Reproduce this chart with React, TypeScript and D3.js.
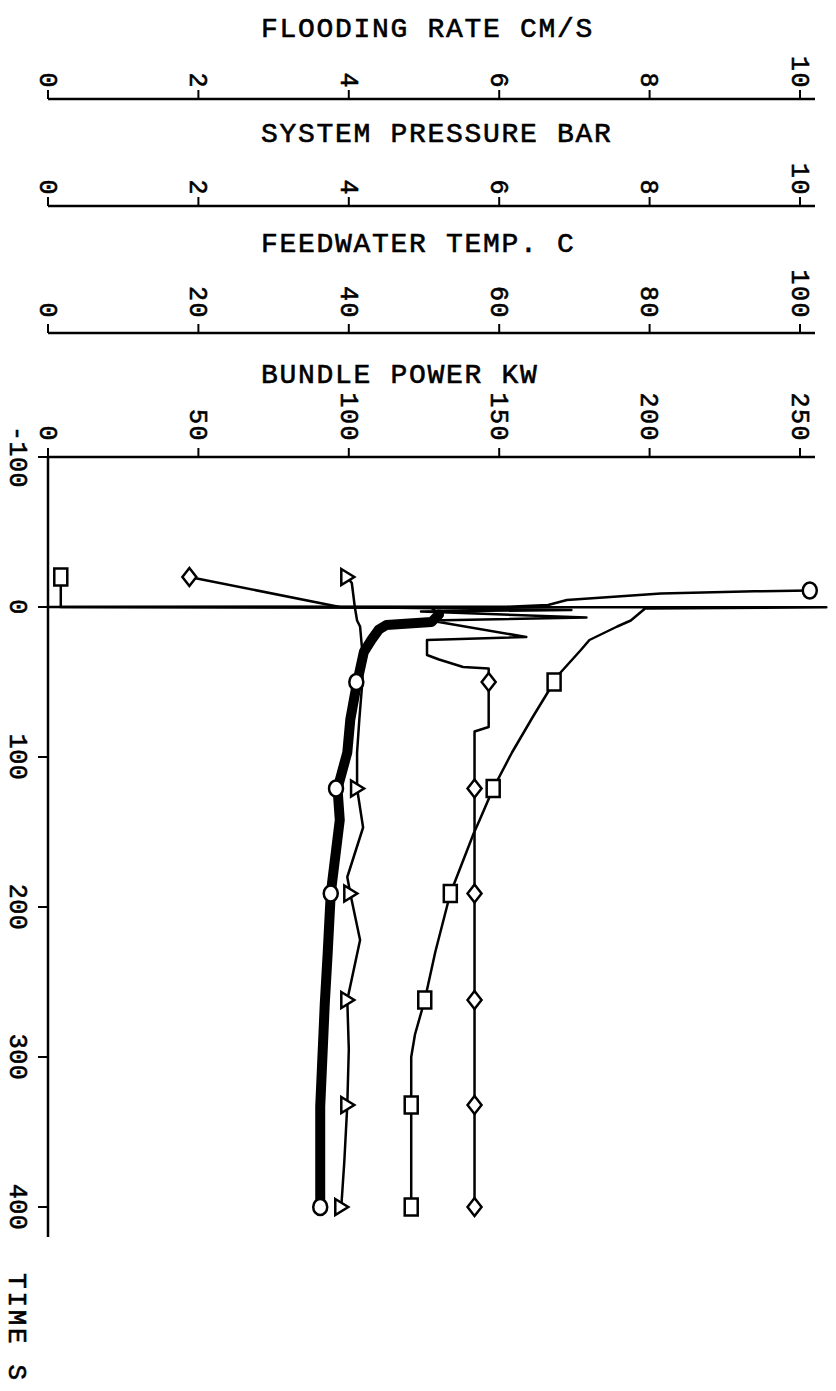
import { useMemo } from "react";
import { scaleLinear, line } from "d3";

const W = 836;
const H = 1391;

const timeTicks = [-100, 0, 100, 200, 300, 400];
const floodTicks = [0, 2, 4, 6, 8, 10];
const pressureTicks = [0, 2, 4, 6, 8, 10];
const feedTicks = [0, 20, 40, 60, 80, 100];
const powerTicks = [0, 50, 100, 150, 200, 250];

// flooding rate cm/s (square markers)
const floodTime = [-20, 0, 0.2, 1, 9, 13, 22, 29, 44, 50, 73, 97, 121, 142, 151, 191, 230, 262, 285, 300, 333, 400];
const floodRate = [0.17, 0.17, 10.35, 7.94, 7.75, 7.57, 7.2, 7.08, 6.81, 6.73, 6.45, 6.17, 5.92, 5.74, 5.66, 5.35, 5.15, 5.01, 4.88, 4.83, 4.83, 4.83];
const floodMarkT = [-20, 50, 121, 191, 262, 332, 400];
const floodMarkV = [0.17, 6.73, 5.92, 5.35, 5.01, 4.83, 4.83];

// system pressure bar (circle markers, noisy trace)
const pressureTime = [-11, -10.5, -9, -4.7, -1.3, -0.2, 0, 0.5, 5, 10, 12, 15, 22, 30, 53, 75, 97, 121, 142, 191, 230, 265, 333, 400];
const pressure = [10.13, 9.4, 8.15, 6.9, 6.65, 6.1, 0, 5.1, 5.2, 5.1, 4.5, 4.4, 4.3, 4.2, 4.1, 4.02, 3.98, 3.85, 3.88, 3.76, 3.72, 3.68, 3.62, 3.62];
const pressureMarkT = [-11, 50, 121, 191, 400];
const pressureMarkV = [10.13, 4.1, 3.83, 3.76, 3.62];

// feedwater temp C (triangle markers)
const feedTime = [-20, -16, 0, 9, 13, 30, 50, 75, 97, 121, 147, 180, 191, 222, 262, 295, 332, 370, 400];
const feedTemp = [39.8, 40.4, 40.8, 41.1, 41.5, 41.8, 41.8, 41.4, 41.1, 41.1, 41.9, 39.8, 40.2, 41.5, 39.8, 40.0, 39.8, 39.4, 39.0];
const feedMarkT = [-20, 121, 191, 262, 332, 400];
const feedMarkV = [39.8, 41.1, 40.2, 39.8, 39.8, 39.0];

// bundle power kW (diamond markers)
const powerTime = [-20, 0, 2, 3, 7, 9, 20, 22, 32, 35, 40, 41, 80, 83, 400];
const power = [47, 97, 174, 124, 179, 127, 159, 126, 126, 130, 138, 146.5, 146.5, 141.8, 141.8];
const powerMarkT = [-20, 50, 121, 191, 262, 332, 400];
const powerMarkV = [47, 146.5, 141.8, 141.8, 141.8, 141.8, 141.8];

const X0 = 48;
const X1 = 800;
const FONT = "'Liberation Mono', 'DejaVu Sans Mono', monospace";

type Shape = "square" | "circle" | "triangle" | "diamond";

function Marker({ shape, cx, cy }: { shape: Shape; cx: number; cy: number }) {
  const common = { fill: "#fff", stroke: "#000", strokeWidth: 2.5 };
  if (shape === "square") return <rect x={cx - 6.5} y={cy - 8.5} width={13} height={17} {...common} />;
  if (shape === "circle") return <ellipse cx={cx} cy={cy} rx={7} ry={8} {...common} />;
  if (shape === "triangle")
    return <polygon points={`${cx - 6},${cy - 8} ${cx + 7},${cy} ${cx - 6},${cy + 8}`} {...common} />;
  return <polygon points={`${cx},${cy - 9} ${cx + 7},${cy} ${cx},${cy + 9} ${cx - 7},${cy}`} {...common} />;
}

export default function App() {
  const y = useMemo(() => scaleLinear().domain([-100, 400]).range([457, 1207]), []);

  const axes = useMemo(
    () => [
      { title: "FLOODING RATE CM/S", ticks: floodTicks, max: 10, axisY: 99, titleY: 37, gap: 10 },
      { title: "SYSTEM PRESSURE BAR", ticks: pressureTicks, max: 10, axisY: 206, titleY: 142, gap: 10 },
      { title: "FEEDWATER TEMP. C", ticks: feedTicks, max: 100, axisY: 333, titleY: 252, gap: 14 },
      { title: "BUNDLE POWER KW", ticks: powerTicks, max: 250, axisY: 457, titleY: 383, gap: 15 },
    ].map((a) => ({ ...a, x: scaleLinear().domain([0, a.max]).range([X0, X1]) })),
    []
  );

  const [xFlood, xPress, xFeed, xPower] = axes.map((a) => a.x);

  const mk = (xs: (v: number) => number, ts: number[], vs: number[]) =>
    line<number>()
      .x((_, i) => xs(vs[i]))
      .y((t) => y(t))(ts) ?? "";

  const floodPath = mk(xFlood, floodTime, floodRate);
  const pressPath = mk(xPress, pressureTime, pressure);
  const bandIdx = pressureTime.map((t, i) => (t >= 3 ? i : -1)).filter((i) => i >= 0);
  const pressBand = mk(
    xPress,
    bandIdx.map((i) => pressureTime[i]),
    bandIdx.map((i) => pressure[i])
  );
  const feedPath = mk(xFeed, feedTime, feedTemp);
  const powerPath = mk(xPower, powerTime, power);

  const lineStyle = { fill: "none", stroke: "#000", strokeWidth: 2.5, strokeLinejoin: "round" as const };
  const textStroke = { stroke: "#000", strokeWidth: 0.6 };

  return (
    <svg
      width={W}
      height={H}
      style={{ position: "absolute", left: 0, top: 0, background: "#fff" }}
      fontFamily={FONT}
    >
      <rect width={W} height={H} fill="#fff" />

      {axes.map((a) => (
        <g key={a.title}>
          <text x={261} y={a.titleY} fontSize={28} letterSpacing={1.7} {...textStroke}>
            {a.title}
          </text>
          <line x1={X0} x2={815} y1={a.axisY} y2={a.axisY} stroke="#000" strokeWidth={2.5} />
          {a.ticks.map((t) => (
            <g key={t}>
              <line x1={a.x(t)} x2={a.x(t)} y1={a.axisY - 9} y2={a.axisY} stroke="#000" strokeWidth={2} />
              <text
                transform={`translate(${a.x(t)},${a.axisY - a.gap}) rotate(90)`}
                textAnchor="end"
                dy="0.33em"
                fontSize={25}
                letterSpacing={1.5}
                {...textStroke}
              >
                {t}
              </text>
            </g>
          ))}
        </g>
      ))}

      {/* time axis */}
      <line x1={X0} x2={X0} y1={457} y2={1237} stroke="#000" strokeWidth={2.5} />
      {timeTicks.map((t) => (
        <g key={t}>
          <line x1={38} x2={X0} y1={y(t)} y2={y(t)} stroke="#000" strokeWidth={2} />
          <text
            transform={`translate(18,${y(t)}) rotate(90)`}
            textAnchor="middle"
            dy="0.33em"
            fontSize={25}
            letterSpacing={0.5}
            {...textStroke}
          >
            {t}
          </text>
        </g>
      ))}
      <text
        transform="translate(18,1328) rotate(90)"
        textAnchor="middle"
        dy="0.33em"
        fontSize={26}
        letterSpacing={2.7}
        {...textStroke}
      >
        TIME S
      </text>

      {/* traces */}
      <path d={pressBand} fill="none" stroke="#000" strokeWidth={10} strokeLinejoin="round" strokeLinecap="round" />
      <path d={pressPath} {...lineStyle} />
      <path d={feedPath} {...lineStyle} />
      <path d={floodPath} {...lineStyle} />
      <path d={powerPath} {...lineStyle} />

      {floodMarkT.map((t, i) => (
        <Marker key={`s${t}`} shape="square" cx={xFlood(floodMarkV[i])} cy={y(t)} />
      ))}
      {pressureMarkT.map((t, i) => (
        <Marker key={`c${t}`} shape="circle" cx={xPress(pressureMarkV[i])} cy={y(t)} />
      ))}
      {feedMarkT.map((t, i) => (
        <Marker key={`t${t}`} shape="triangle" cx={xFeed(feedMarkV[i])} cy={y(t)} />
      ))}
      {powerMarkT.map((t, i) => (
        <Marker key={`d${t}`} shape="diamond" cx={xPower(powerMarkV[i])} cy={y(t)} />
      ))}
    </svg>
  );
}
